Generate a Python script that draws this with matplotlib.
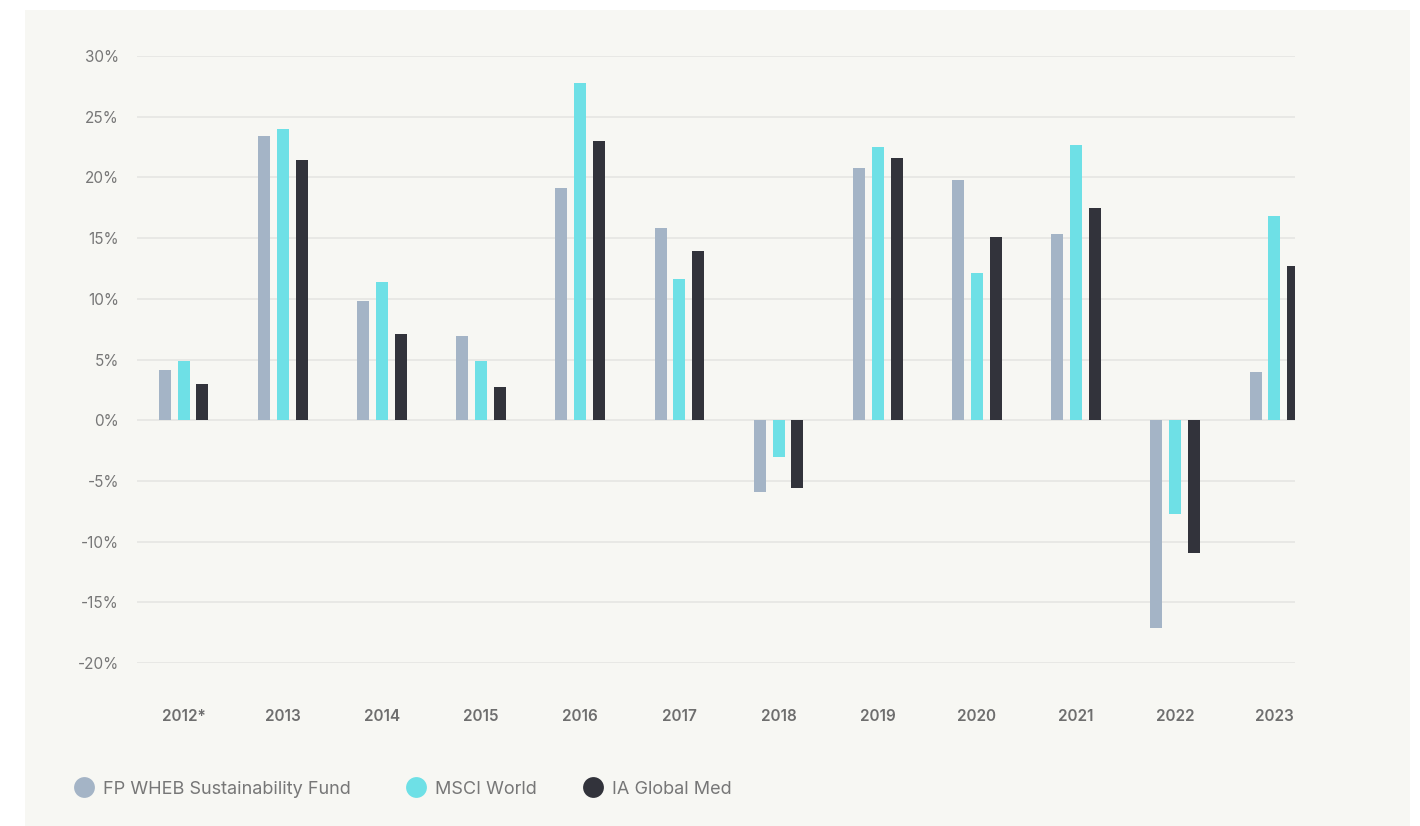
import numpy as np
import matplotlib.pyplot as plt
from matplotlib.patches import Rectangle
from matplotlib.lines import Line2D

plt.rcParams['font.family'] = ['Inter', 'DejaVu Sans']

years = ['2012*', '2013', '2014', '2015', '2016', '2017', '2018', '2019', '2020', '2021', '2022', '2023']
wheb = [4.1, 23.4, 9.8, 6.9, 19.1, 15.8, -5.9, 20.8, 19.8, 15.3, -17.1, 4.0]
msci = [4.9, 24.0, 11.4, 4.9, 27.8, 11.6, -3.0, 22.5, 12.1, 22.7, -7.7, 16.8]
ia_global = [3.0, 21.4, 7.1, 2.7, 23.0, 13.9, -5.6, 21.6, 15.1, 17.5, -10.9, 12.7]
series_names = ['FP WHEB Sustainability Fund', 'MSCI World', 'IA Global Med']
colors = ['#a4b4c6', '#6ee0e6', '#32333b']
yticks = [-20, -15, -10, -5, 0, 5, 10, 15, 20, 25, 30]

W, H = 1420, 826
fig = plt.figure(figsize=(W / 100, H / 100), dpi=100, facecolor='white')

# light panel behind everything
panel = Rectangle((25 / W, 0), (1410 - 25) / W, 1 - 10 / H,
                  transform=fig.transFigure, facecolor='#f7f7f3',
                  edgecolor='none', zorder=-10)
fig.add_artist(panel)

ax = fig.add_axes([137 / W, 1 - 663 / H, (1295 - 137) / W, (663 - 56) / H])
ax.set_facecolor('none')
ax.set_zorder(1)

x = np.arange(len(years))
bw = 0.121
off = 0.19
for i, vals in enumerate([wheb, msci, ia_global]):
    ax.bar(x + (i - 1) * off, vals, width=bw, color=colors[i], zorder=3)

ax.set_xlim(-0.469, 11.207)
ax.set_ylim(-20, 30)
ax.set_yticks(yticks)
ax.set_yticklabels([f'{t}%' for t in yticks])
ax.set_xticks(x)
ax.set_xticklabels(years, fontweight='semibold')
ax.grid(axis='y', color='#e6e6e3', linewidth=1.2, zorder=0)
ax.tick_params(axis='both', length=0, colors='#777777', labelsize=11)
ax.tick_params(axis='x', colors='#6e6e6e')
ax.tick_params(axis='y', pad=13)
ax.tick_params(axis='x', pad=33)
for s in ax.spines.values():
    s.set_visible(False)

# legend: one entry per legend so each sits where the reference puts it
leg_x = [57, 389, 566]
for name, c, lx in zip(series_names, colors, leg_x):
    h = Line2D([], [], marker='o', linestyle='none', markersize=15,
               markerfacecolor=c, markeredgecolor='none')
    leg = fig.legend([h], [name], loc='center left',
                     bbox_to_anchor=(lx / W, 1 - 789 / H), frameon=False,
                     fontsize=13, handletextpad=0.45, handlelength=1.2)
    for t in leg.get_texts():
        t.set_color('#777777')

fig.savefig('out.png', dpi=100, facecolor='white')
